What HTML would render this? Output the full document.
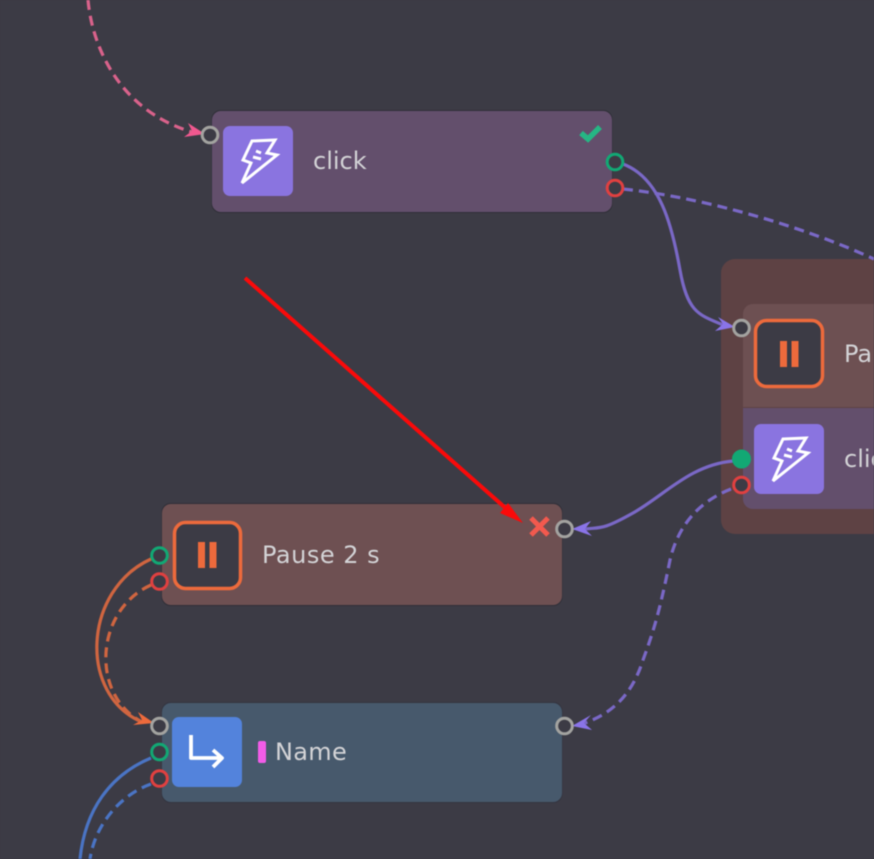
<!DOCTYPE html>
<html><head><meta charset="utf-8"><style>
html,body{margin:0;padding:0;background:#3c3b45;width:874px;height:859px;overflow:hidden}
svg{display:block;filter:blur(0.45px)}
text{font-family:"DejaVu Sans","Liberation Sans",sans-serif;font-size:24px;fill:#d3d3d6}
</style></head><body>
<svg width="874" height="859" viewBox="0 0 874 859" xmlns="http://www.w3.org/2000/svg">
<defs>
<path id="bolt" d="M-6 -19L17 -20L9 -7L19 -5L-16 23L-7 3L-15 0Z M-5 -3L3 -1M-2 -9L3 -7" fill="none" stroke="#fff" stroke-width="3"/>
</defs>
<rect width="874" height="859" fill="#3c3b45"/>

<!-- click node -->
<rect x="211.500" y="110" width="401" height="103" rx="9" fill="#302f38"/>
<rect x="212" y="111" width="400" height="101" rx="9" fill="#634f6c"/>
<rect x="223" y="126" width="70" height="70" rx="7" fill="#8a74e0"/>
<use href="#bolt" x="258" y="160"/>
<text x="313" y="169" style="letter-spacing:0">click</text>
<path d="M581 133l7 6 12-12" fill="none" stroke="#26b684" stroke-width="5.500"/>

<!-- group -->
<path d="M874 259H735a14 14 0 0 0-14 14V520a14 14 0 0 0 14 14H874Z" fill="#5e4244"/>
<path d="M874 304H753a10 10 0 0 0-10 10V407H874Z" fill="#6d5052"/>
<path d="M743 408H874V509H753a10 10 0 0 1-10-10Z" fill="#634f6c"/>
<rect x="755.500" y="320.500" width="67" height="66" rx="11" fill="#3c3b45" stroke="#ed6a3c" stroke-width="3.500"/>
<rect x="780" y="341" width="7" height="26" fill="#ed6a3c"/><rect x="791.500" y="341" width="7" height="26" fill="#ed6a3c"/>
<rect x="754" y="424" width="70" height="70" rx="7" fill="#8a74e0"/>
<use href="#bolt" x="789" y="458"/>
<text x="844" y="362">Pause</text>
<text x="844" y="467">click</text>

<!-- pause node -->
<rect x="161.500" y="503" width="401" height="103" rx="9" fill="#302f38"/>
<rect x="162" y="504" width="400" height="101" rx="9" fill="#6e5052"/>
<rect x="174.500" y="522.500" width="66" height="66" rx="11" fill="#3c3b45" stroke="#ed6a3c" stroke-width="3.500"/>
<rect x="198" y="542" width="7" height="26" fill="#ed6a3c"/><rect x="209.500" y="542" width="7" height="26" fill="#ed6a3c"/>
<text x="262" y="563" style="letter-spacing:0.5px">Pause 2 s</text>
<path d="M531 518l17 17M548 518l-17 17" stroke="#f2594e" stroke-width="5" fill="none"/>

<!-- name node -->
<rect x="161.500" y="702" width="401" height="101" rx="9" fill="#343540"/>
<rect x="162" y="703" width="400" height="99" rx="9" fill="#47596c"/>
<rect x="172" y="717" width="70" height="70" rx="7" fill="#5383dc"/>
<path d="M191 735V758H222M213 750l9 8-9 9" fill="none" stroke="#fff" stroke-width="3.800" stroke-linejoin="round"/>
<rect x="258" y="741" width="8" height="22" rx="2" fill="#f25ce8"/>
<text x="275" y="760" style="letter-spacing:0.3px">Name</text>

<!-- connectors -->
<g fill="none" stroke-width="3.200">
<path d="M88 0C92 45 118 110 192 132" stroke="#d9628b" stroke-dasharray="10 6"/>
<path d="M623 164C660 178 672 225 680 270S700 315 728 327" stroke="#7a68c6"/>
<path d="M623 189C700 197 800 225 874 259" stroke="#7a68c6" stroke-dasharray="10 6"/>
<path d="M733 461C690 465 665 495 633 513S600 527 585 529" stroke="#7a68c6"/>
<path d="M731 489C695 503 677 530 670 560C660 610 654 630 643 660C632 695 612 714 582 724" stroke="#7a68c6" stroke-dasharray="10 6"/>
<path d="M151 559C83 590 78 695 142 722" stroke="#d06540"/>
<path d="M151 585C95 610 90 695 142 722" stroke="#d06540" stroke-dasharray="10 6"/>
<path d="M151 758C110 775 85 810 80 859" stroke="#4a74c4"/>
<path d="M151 784C120 795 95 825 90 859" stroke="#4a74c4" stroke-dasharray="10 6"/>
</g>

<!-- arrowheads -->
<path d="M205 134L188 123L192 131L184 137Z" fill="#f0588f"/>
<path d="M735 327L718 317L723 324L715 331Z" fill="#8a74e8"/>
<path d="M572 529L591 521L585 529L592 536Z" fill="#8a74e8"/>
<path d="M572 726L591 715L584 723L592 730Z" fill="#8a74e8"/>
<path d="M154 723L138 712L142 720L133 725Z" fill="#ed6a3c"/>

<!-- sockets -->
<g fill="#3c3b45" stroke-width="3">
<circle cx="210" cy="135" r="7.800" stroke="#a3a3a0"/>
<circle cx="615" cy="162" r="7.800" stroke="#12a874"/>
<circle cx="615" cy="188" r="7.800" stroke="#e04040"/>
<circle cx="741.500" cy="328" r="7.800" stroke="#a3a3a0"/>
<circle cx="741.500" cy="459" r="8" fill="#12a874" stroke="#12a874"/>
<circle cx="741.500" cy="485" r="7.800" stroke="#e04040"/>
<circle cx="159.500" cy="555.500" r="7.800" stroke="#12a874"/>
<circle cx="159.500" cy="581.500" r="7.800" stroke="#e04040"/>
<circle cx="564.500" cy="529" r="7.800" stroke="#a3a3a0"/>
<circle cx="159.500" cy="726" r="7.800" stroke="#a3a3a0"/>
<circle cx="159.500" cy="752" r="7.800" stroke="#12a874"/>
<circle cx="159.500" cy="778.500" r="7.800" stroke="#e04040"/>
<circle cx="564.500" cy="726" r="7.800" stroke="#a3a3a0"/>
</g>

<!-- red annotation arrow -->
<path d="M245 278L510 512" stroke="#fa0a0a" stroke-width="4" fill="none"/>
<path d="M523 523L508 503L500 513Z" fill="#fa0a0a"/>
</svg>
</body></html>
